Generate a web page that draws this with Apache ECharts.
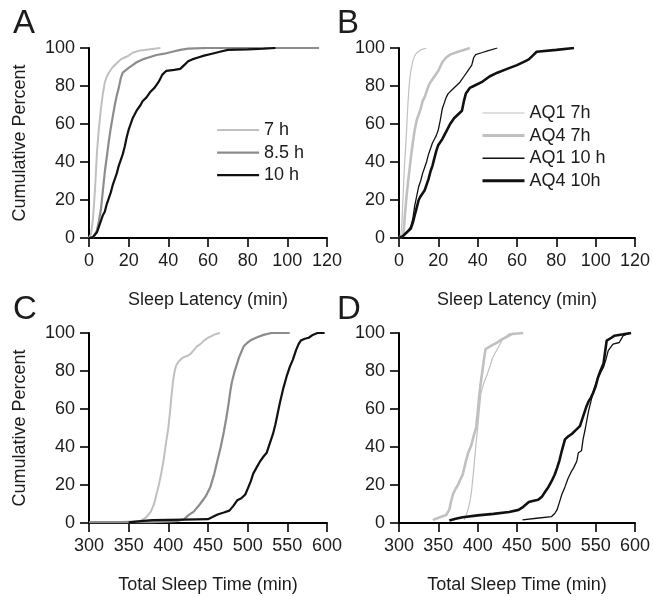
<!DOCTYPE html>
<html>
<head>
<meta charset="utf-8">
<script src="https://cdn.jsdelivr.net/npm/echarts@6/dist/echarts.min.js"></script>
<style>
  html, body { margin: 0; padding: 0; background: #fff; }
  #chart { width: 653px; height: 596px; }
</style>
</head>
<body>
<div id="chart"></div>
<script>
// tick values
var yTicks = [0, 20, 40, 60, 80, 100];
var latencyTicks = [0, 20, 40, 60, 80, 100, 120];
var tstTicks = [300, 350, 400, 450, 500, 550, 600];

// A: sleep latency by condition  [min, cumulative %]
var latency7h = [[0,0],[1,2],[2,10],[3,25],[3.5,35],[4,45],[5,58],[6,68],[7,76],[8,82],[9,85],[10,87],[12,90],[14,92],[16,94],[18,95],[20,96],[22,97.5],[25,98.5],[28,99],[32,99.5],[36,100]];
var latency85h = [[2,0],[3,1],[4,4],[5,9],[6,15],[7,25],[8,35],[9,43],[10,51],[11,58],[12,64],[13,70],[14,75],[15,79],[16,84],[17,87],[18,88],[20,89.5],[22,91],[24,92.5],[27,94],[30,95],[34,96.3],[38,97],[42,98],[46,99],[50,99.7],[60,100],[116,100]];
var latency10h = [[0,0],[2,0.5],[3,1],[4,3],[5,6],[6,9],[7,12],[8,14],[9,18],[10,21],[11,24],[12,28],[13,31],[14,34],[15,38],[16,41],[17,44],[18,48],[19,53],[20,57],[21,60],[22,63],[23,65],[24,67],[25,68],[26,70],[27,72],[28,73],[29,74],[30,75],[31,77],[32,78],[33,79],[34,80],[35,82],[36,84],[37,86],[38,87],[39,88],[40,88],[43,88.5],[46,89],[48,91],[50,93],[52,94],[55,95],[58,96],[62,97],[66,98],[70,99],[80,99.3],[88,99.6],[94,100]];

// B: sleep latency by AQ group
var latAQ1_7h = [[0,0],[1,2],[1.5,8],[2,20],[2.5,32],[3,42],[3.5,50],[4,60],[4.5,70],[5,78],[5.5,84],[6,88],[7,93],[8,96],[9,97.5],[11,99],[14,100]];
var latAQ4_7h = [[0,0],[2,1],[2.5,5],[3,12],[3.5,18],[4,24],[5,33],[6,42],[7,50],[8,57],[9,62],[10,65],[11,68],[12,72],[13,74],[14,77],[15,80],[16,82],[17,83],[18,85],[19,86],[20,88],[22,92.5],[24,95],[26,96.5],[30,98],[33,99],[36,100]];
var latAQ1_10h = [[0,0],[2,1],[4,3],[6,6],[7,10],[8,17],[9,22],[10,27],[11,30],[12,34],[13,37],[14,40],[15,44],[16,47],[17,50],[18,52],[19,54],[20,57],[21,62],[22,68],[23,71],[24,74],[25,76],[27,78],[29,80],[31,82],[33,85],[35,88],[37,91],[38,95],[39,96.5],[42,97.5],[45,98.5],[50,100]];
var latAQ4_10h = [[0,0],[2,1],[4,3],[6,5],[7,8],[8,12],[9,16],[10,20],[11,22],[12,23],[13,25],[14,28],[15,31],[16,35],[17,38],[18,42],[19,46],[20,49],[22,52],[24,56],[26,60],[28,63],[30,65],[32,67],[33,72],[34,76],[36,79],[38,80],[42,82],[46,85],[50,87],[55,89],[60,91],[64,93],[66,94],[68,96],[70,98],[80,99],[89,100]];

// C: total sleep time by condition
var tst7h = [[300,0.5],[340,0.5],[365,1],[372,3],[378,6],[382,10],[385,15],[388,20],[391,26],[394,33],[397,42],[400,50],[402,58],[404,67],[406,75],[408,80],[410,83],[413,85],[418,87],[424,88],[428,89],[432,91],[436,93],[440,94],[445,96],[450,97.5],[455,98.5],[460,99.5],[465,100]];
var tst85h = [[300,0.5],[380,0.5],[410,1],[420,2],[425,4],[432,6],[440,10],[447,14],[453,19],[458,26],[462,33],[466,40],[470,48],[473,55],[476,63],[478,69],[480,74],[483,79],[486,83],[489,87],[492,90],[495,93],[500,95],[505,96.5],[512,97.8],[520,99],[530,100],[553,100]];
var tst10h = [[350,0.3],[365,1],[380,1.5],[420,1.8],[450,2],[455,3],[462,4.5],[470,5.5],[477,6.5],[482,9],[487,12],[492,13],[497,15],[500,18],[504,22],[507,26],[511,29],[515,32],[520,35],[524,37],[528,42],[532,47],[535,52],[538,58],[541,64],[545,71],[549,77],[553,82],[557,86],[561,91],[564,94],[567,96],[572,97],[577,97.5],[582,99],[588,100],[597,100]];

// D: total sleep time by AQ group
var tstAQ1_7h = [[383,1.6],[387,6],[390,11],[392,16],[394,24],[396,33],[398,42],[400,50],[402,59],[404,68],[408,74],[412,78],[416,83],[419,87],[423,90],[427,93],[432,97],[440,99.5],[447,100]];
var tstAQ4_7h = [[343,1.6],[352,3],[360,4.2],[364,7],[366,11],[368.5,15],[372,18],[375,20],[378,23],[381,25.5],[383,29],[385,32.5],[388,37],[392,41],[395,46],[398,50],[400,58],[402,67],[404,74],[406,80],[408,86],[410,91.5],[418,93.5],[425,95],[430,96.5],[436,97.7],[444,99.5],[458,100]];
var tstAQ1_10h = [[457,1.6],[475,2.5],[494,3.4],[498,5],[501,7],[504,11],[507,15],[511,19],[515,23.6],[519,27],[522,29],[526,32.5],[528,37],[532,38],[534,44],[537,50],[541,59],[544,64],[547,69.5],[553,76.6],[560,82],[563,86],[566,90.7],[572,94.2],[580,95],[585,98.6],[595,100]];
var tstAQ4_10h = [[364,1.3],[372,2.2],[381,3],[400,4],[420,4.8],[440,5.8],[452,6.9],[458,8.5],[465,11],[470,11.6],[477,12.2],[482,14],[486,16.6],[490,19],[494,22],[498,25.5],[501,29],[504,33],[507,38],[509,41],[511,44],[515,45.5],[520,47],[525,49],[530,51],[534,56],[538,61],[541,64],[544,66],[547,68.6],[550,72],[553,76.6],[556,80],[560,84],[562,90],[564,96],[570,97.5],[574,98.6],[585,99.3],[595,100]];

var txt = '#1c1c1c';
var fontName = 'Liberation Sans';
var lightGray = '#c0c0c0';
var midGray = '#8c8c8c';
var black = '#111111';

var myChart = echarts.init(document.getElementById('chart'));

function makeX(idx, ticks, name) {
    return {
        gridIndex: idx,
        type: 'value',
        min: ticks[0],
        max: ticks[ticks.length - 1],
        interval: ticks[1] - ticks[0],
        name: name,
        nameLocation: 'middle',
        nameGap: 53,
        nameTextStyle: { color: txt, fontSize: 18, fontFamily: fontName },
        axisLine: { show: true, onZero: false, lineStyle: { color: '#000', width: 2 } },
        axisTick: { show: true, length: 9, lineStyle: { color: '#000', width: 1.6 } },
        axisLabel: { color: txt, fontSize: 18, fontFamily: fontName, margin: 14 },
        splitLine: { show: false }
    };
}

function makeY(idx, showName) {
    return {
        gridIndex: idx,
        type: 'value',
        min: yTicks[0],
        max: yTicks[yTicks.length - 1],
        interval: 20,
        name: showName ? 'Cumulative Percent' : '',
        nameLocation: 'middle',
        nameGap: 60,
        nameTextStyle: { color: txt, fontSize: 18, fontFamily: fontName },
        axisLine: { show: true, lineStyle: { color: '#000', width: 2 } },
        axisTick: { show: true, length: 9, lineStyle: { color: '#000', width: 1.6 } },
        axisLabel: { color: txt, fontSize: 18, fontFamily: fontName, margin: 14 },
        splitLine: { show: false }
    };
}

function line(name, idx, data, color, width) {
    return {
        name: name,
        type: 'line',
        xAxisIndex: idx,
        yAxisIndex: idx,
        data: data,
        symbol: 'none',
        silent: true,
        animation: false,
        lineStyle: { color: color, width: width },
        itemStyle: { color: color }
    };
}

// legend entries carry their own line width so thin/thick lines show in the key
function legendBox(items, left, top) {
    return {
        data: items.map(function (it) {
            return { name: it[0], lineStyle: { width: it[1] } };
        }),
        orient: 'vertical',
        left: left, top: top,
        itemWidth: 42, itemHeight: 14, itemGap: 4.6,
        itemStyle: { opacity: 0 },
        textStyle: { color: txt, fontSize: 18, fontFamily: fontName },
        selectedMode: false
    };
}

var option = {
    backgroundColor: '#fff',
    animation: false,
    title: [
        { text: 'A', left: 8, top: 2 },
        { text: 'B', left: 332, top: 2 },
        { text: 'C', left: 8, top: 288 },
        { text: 'D', left: 332, top: 288 }
    ].map(function (t) {
        t.textStyle = { color: txt, fontSize: 33, fontWeight: 'normal', fontFamily: fontName };
        return t;
    }),
    grid: [
        { left: 89, top: 48, width: 238, height: 190 },
        { left: 399, top: 48, width: 238, height: 190 },
        { left: 89, top: 333, width: 238, height: 190 },
        { left: 399, top: 333, width: 238, height: 190 }
    ],
    xAxis: [
        makeX(0, latencyTicks, 'Sleep Latency (min)'),
        makeX(1, latencyTicks, 'Sleep Latency (min)'),
        makeX(2, tstTicks, 'Total Sleep Time (min)'),
        makeX(3, tstTicks, 'Total Sleep Time (min)')
    ],
    yAxis: [makeY(0, true), makeY(1, false), makeY(2, true), makeY(3, false)],
    legend: [
        legendBox([['7 h', 2], ['8.5 h', 2.2], ['10 h', 2.2]], 211, 116),
        legendBox([['AQ1 7h', 1.2], ['AQ4 7h', 3], ['AQ1 10 h', 1.4], ['AQ4 10h', 3]], 476, 99)
    ],
    series: [
        line('7 h', 0, latency7h, lightGray, 2),
        line('8.5 h', 0, latency85h, midGray, 2.2),
        line('10 h', 0, latency10h, black, 2.2),
        line('AQ1 7h', 1, latAQ1_7h, lightGray, 1.2),
        line('AQ4 7h', 1, latAQ4_7h, lightGray, 2.6),
        line('AQ1 10 h', 1, latAQ1_10h, black, 1.3),
        line('AQ4 10h', 1, latAQ4_10h, black, 2.6),
        line('7 h', 2, tst7h, lightGray, 2),
        line('8.5 h', 2, tst85h, midGray, 2.2),
        line('10 h', 2, tst10h, black, 2.2),
        line('AQ1 7h', 3, tstAQ1_7h, lightGray, 1.2),
        line('AQ4 7h', 3, tstAQ4_7h, lightGray, 2.6),
        line('AQ1 10 h', 3, tstAQ1_10h, black, 1.3),
        line('AQ4 10h', 3, tstAQ4_10h, black, 2.6)
    ]
};

myChart.setOption(option);
</script>
</body>
</html>
